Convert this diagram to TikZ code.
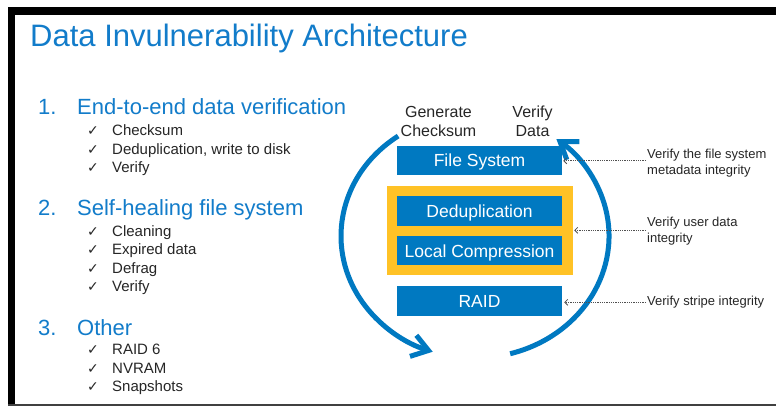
\documentclass[tikz,border=0pt]{standalone}
\usepackage{fontspec}
\setmainfont{Liberation Sans}
\newfontfamily\symfont{DejaVu Sans}
\usetikzlibrary{arrows.meta,calc}
\definecolor{dblue}{RGB}{0,121,193}
\definecolor{tblue}{RGB}{18,124,202}
\definecolor{gold}{RGB}{255,194,38}
\definecolor{txt}{RGB}{38,38,38}
\definecolor{dotc}{RGB}{80,80,80}
\begin{document}
\begin{tikzpicture}[x=1pt,y=-1pt,
  head/.style={font=\fontsize{22}{26}\selectfont, text=tblue, anchor=base west, inner sep=0pt},
  item/.style={font=\fontsize{15}{18}\selectfont, text=txt, anchor=base west, inner sep=0pt},
  chk/.style={font=\symfont\fontsize{14}{16}\selectfont, text=txt, anchor=base west, inner sep=0pt},
  bluebox/.style={fill=dblue, text=white, minimum width=165pt, inner sep=0pt,
    font=\fontsize{17.5}{20}\selectfont, text height=13pt, text depth=0pt},
  toplbl/.style={font=\fontsize{16}{19}\selectfont, text=txt, align=center, inner sep=0pt},
  sidelbl/.style={font=\fontsize{13}{16}\selectfont, text=txt, align=left, anchor=west, inner sep=0pt},
  cyc/.style={draw=dblue, line width=5pt, -{Straight Barb[length=16pt,width=22pt]}},
  dotarrow/.style={draw=dotc, line width=0.8pt, dash pattern=on 0.9pt off 0.9pt, -{Straight Barb[length=3pt,width=6pt]}}
]
\useasboundingbox (0,0) rectangle (776,406);
\fill[white] (0,0) rectangle (776,406);
% frame
\fill[black] (8,7) rectangle (776,15);
\fill[black] (8,7) rectangle (15,404);
\fill[black!75] (8,404) rectangle (776,406);

% title
\node[anchor=base west, inner sep=0pt, font=\fontsize{31}{37}\selectfont, text=tblue] (title) at (30,47) {Data Invulnerability Architecture};

% list 1
\node[head] (n1) at (38,115) {1.};
\node[head] (h1) at (77,115) {End-to-end data verification};
\node[chk] (k11) at (87,135.5) {✓}; \node[item] (i11) at (112,135.5) {Checksum};
\node[chk] (k12) at (87,154.5) {✓}; \node[item] (i12) at (112,154.5) {Deduplication, write to disk};
\node[chk] (k13) at (87,173) {✓}; \node[item] (i13) at (112,173) {Verify};
% list 2
\node[head] (n2) at (38,215) {2.};
\node[head] (h2) at (77,215) {Self-healing file system};
\node[chk] (k21) at (87,236.5) {✓}; \node[item] (i21) at (112,236.5) {Cleaning};
\node[chk] (k22) at (87,254.5) {✓}; \node[item] (i22) at (112,254.5) {Expired data};
\node[chk] (k23) at (87,273.5) {✓}; \node[item] (i23) at (112,273.5) {Defrag};
\node[chk] (k24) at (87,291.5) {✓}; \node[item] (i24) at (112,291.5) {Verify};
% list 3
\node[head] (n3) at (38,335) {3.};
\node[head] (h3) at (77,335) {Other};
\node[chk] (k31) at (87,354.5) {✓}; \node[item] (i31) at (112,354.5) {RAID 6};
\node[chk] (k32) at (87,373.5) {✓}; \node[item] (i32) at (112,373.5) {NVRAM};
\node[chk] (k33) at (87,391.5) {✓}; \node[item] (i33) at (112,391.5) {Snapshots};

% diagram
\node[toplbl] (gen) at (438.5,121.7) {Generate\\Checksum};
\node[toplbl] (ver) at (532.5,121.7) {Verify\\Data};

\node[fill=gold, minimum width=186pt, minimum height=89pt, inner sep=0pt] (yel) at (480,230.5) {};
\node[bluebox, minimum height=29pt] (fs) at (479.5,160.5) {File System};
\node[bluebox, minimum height=30pt] (dd) at (479.5,211) {Deduplication};
\node[bluebox, minimum height=29pt] (lc) at (479.5,250.5) {Local Compression};
\node[bluebox, minimum height=30pt] (raid) at (479.5,301) {RAID};

\coordinate (ctr) at (475,236);
\draw[cyc] (ctr) ++(235:134 and 122) arc[start angle=235, end angle=108.4, x radius=134, y radius=122];
\draw[cyc] (ctr) ++(74.8:134 and 122) arc[start angle=74.8, end angle=-52.6, x radius=134, y radius=122];

% side labels
\node[sidelbl] (t1) at (647,163.3) {Verify the file system\\metadata integrity};
\node[sidelbl] (t2) at (647,231.3) {Verify user data\\integrity};
\node[sidelbl] (t3) at (647,302.3) {Verify stripe integrity};

\coordinate (t1s) at ($(t1.west)+(-1,-2.5)$);
\draw[dotarrow] (t1s) -- ($(t1s -| fs.east)+(1,0)$);
\draw[dotarrow] ($(t2.west)+(-1,-1)$) -- ($(t2.west -| yel.east)+(1,-1)$);
\draw[dotarrow] ($(t3.west)+(-1,0)$) -- ($(t3.west -| raid.east)+(2,0)$);
\end{tikzpicture}
\end{document}
